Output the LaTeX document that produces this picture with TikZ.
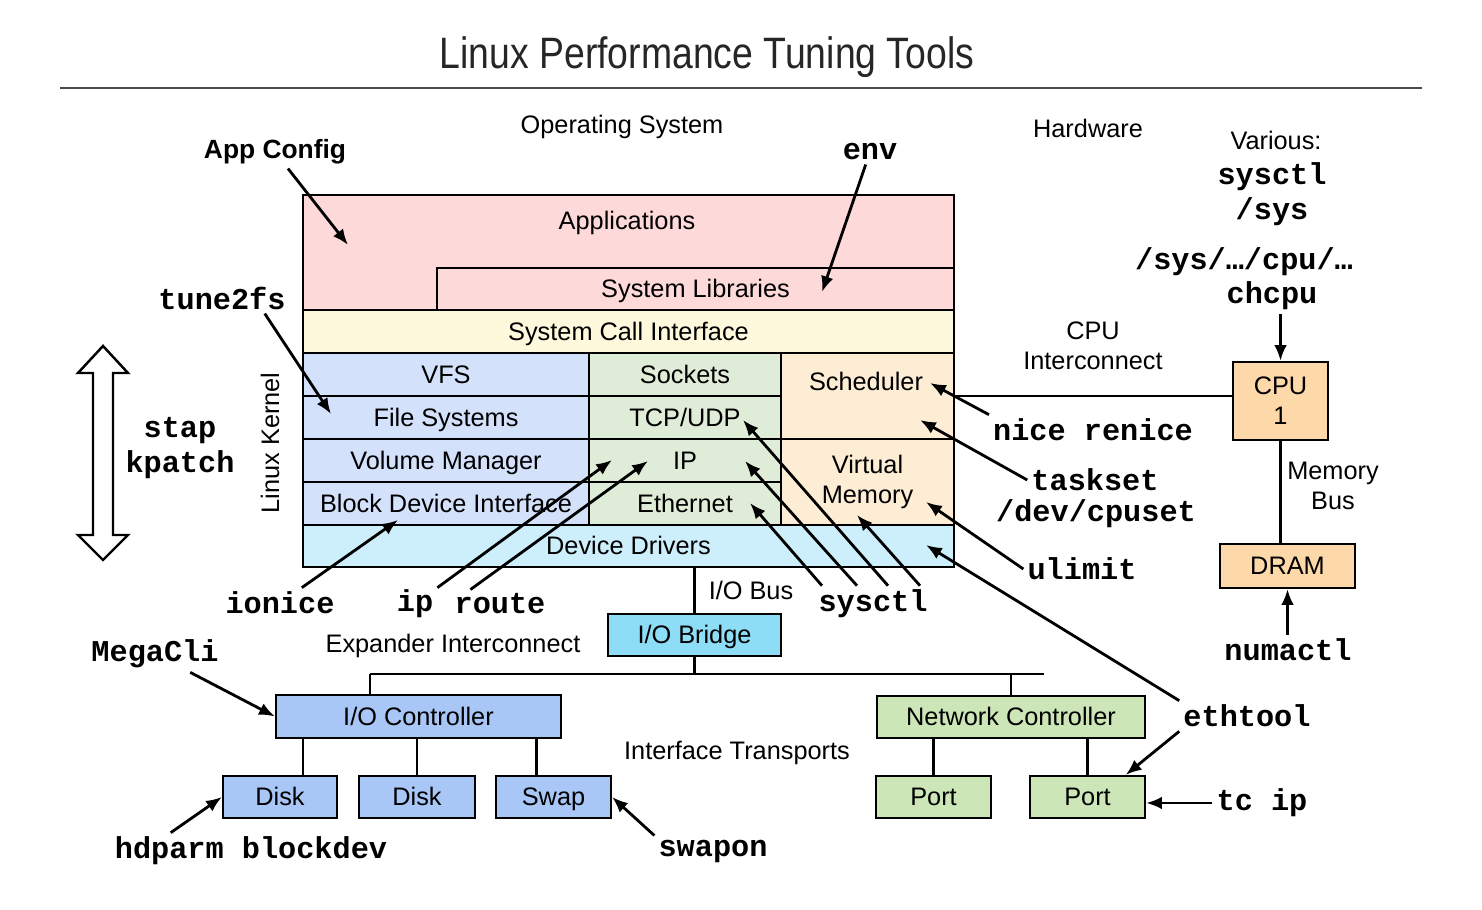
\documentclass[tikz,border=0pt]{standalone}
\usepackage{graphicx}
\usepackage{fontspec}
\setmainfont{Liberation Sans}
\setmonofont{Liberation Mono}
\usetikzlibrary{arrows.meta,positioning,calc}

\definecolor{apppink}{HTML}{FDD9D9}
\definecolor{sysyellow}{HTML}{FEF8DC}
\definecolor{kblue}{HTML}{D3E1FA}
\definecolor{kgreen}{HTML}{DFECD7}
\definecolor{korange}{HTML}{FDEDD5}
\definecolor{ddcyan}{HTML}{CDEEFB}
\definecolor{bridgecyan}{HTML}{8EDDF6}
\definecolor{ioblue}{HTML}{A8C6F6}
\definecolor{netgreen}{HTML}{CCE6B8}
\definecolor{hworange}{HTML}{FDD8A9}

\newcommand\boxfont{\fontsize{7.2}{8.5}\selectfont}
\newcommand\headfont{\fontsize{7.5}{9}\selectfont\bfseries}
\newcommand\cmdfont{\fontsize{8.6}{9.8}\selectfont\ttfamily\bfseries}

\begin{document}
\begin{tikzpicture}[x=0.01cm, y=-0.01cm,
    box/.style={draw, line width=0.6pt, inner sep=0pt, font=\boxfont, align=center},
    sbox/.style={box, text height=0.72em, text depth=0.22em},
    kbox/.style={sbox, minimum width=2.86cm, minimum height=0.43cm},
    lbl/.style={font=\boxfont, align=center, inner sep=1pt},
    cmd/.style={font=\cmdfont, align=center, inner sep=1pt},
    arrow/.style={-{Latex[length=4.5pt,width=3.6pt]}, line width=0.8pt},
    wire/.style={line width=0.6pt}
]
\useasboundingbox (0,0) rectangle (1482,910);

% Title
\node[black!85] (title) at (707,57) {\scalebox{0.85}[1]{\fontsize{12.5}{14}\selectfont Linux Performance Tuning Tools}};
\coordinate (ruleL) at (60,88);
\coordinate (ruleR) at (1422,88);
\draw[black!70, line width=0.5pt] (ruleL) -- (ruleR);

\node[lbl] (os) at (622,127) {Operating System};
\node[lbl] (hw) at (1088,128) {Hardware};

% Operating system stack
\node[box, fill=apppink, minimum width=6.51cm, minimum height=1.15cm] (apps) at (628.5,252.5) {};
\node[lbl] (appstxt) at (627,223) {Applications};
\node[sbox, fill=apppink, minimum width=5.17cm, minimum height=0.42cm] (libs) at (695.5,289) {System Libraries};
\node[sbox, fill=sysyellow, minimum width=6.51cm, minimum height=0.43cm] (syscall) at (628.5,331.5) {System Call Interface};

\node[kbox, fill=kblue] (vfs) at (446,374.5) {VFS};
\node[kbox, fill=kblue] (fs) at (446,417.5) {File Systems};
\node[kbox, fill=kblue] (vol) at (446,460.5) {Volume Manager};
\node[kbox, fill=kblue] (bdi) at (446,503.5) {Block Device Interface};

\node[kbox, fill=kgreen, minimum width=1.92cm] (sock) at (685,374.5) {Sockets};
\node[kbox, fill=kgreen, minimum width=1.92cm] (tcp) at (685,417.5) {TCP/UDP};
\node[kbox, fill=kgreen, minimum width=1.92cm] (ip) at (685,460.5) {IP};
\node[kbox, fill=kgreen, minimum width=1.92cm] (eth) at (685,503.5) {Ethernet};

\node[box, fill=korange, minimum width=1.73cm, minimum height=0.86cm] (sched) at (867.5,396) {};
\node[lbl] (schedtxt) at (866,381) {Scheduler};
\node[box, fill=korange, minimum width=1.73cm, minimum height=0.86cm] (vm) at (867.5,482) {Virtual\\Memory};

\node[sbox, fill=ddcyan, minimum width=6.51cm, minimum height=0.42cm] (dd) at (628.5,546) {Device Drivers};

\node[lbl, rotate=90] (kernel) at (270,443) {Linux Kernel};

% Hardware
\node[box, fill=hworange, minimum width=0.95cm, minimum height=0.78cm] (cpu) at (1280.5,401) {CPU\\1};
\node[sbox, fill=hworange, minimum width=1.35cm, minimum height=0.44cm] (dram) at (1287.5,566) {DRAM};
\node[lbl] (cpuic) at (1093,346) {CPU\\Interconnect};
\node[lbl] (membus) at (1333,486) {Memory\\Bus};
\draw[wire] (sched.east) -- (sched.east -| cpu.west);
\draw[wire] (cpu.south) -- (cpu.south |- dram.north);

% I/O path
\node[sbox, fill=bridgecyan, minimum width=1.73cm, minimum height=0.42cm] (bridge) at (694.5,635) {I/O Bridge};
\node[lbl] (iobus) at (751,590) {I/O Bus};
\node[lbl] (expander) at (453,646) {Expander Interconnect};
\coordinate (busL) at (370,674);
\coordinate (busR) at (1044,674);
\draw[wire] (bridge.north) -- (bridge.north |- dd.south);
\draw[wire] (busL) -- (busR);
\draw[wire] (bridge.south) -- (bridge.south |- busL);

\node[sbox, fill=ioblue, minimum width=2.85cm, minimum height=0.43cm] (ioctl) at (418.5,716.5) {I/O Controller};
\node[sbox, fill=netgreen, minimum width=2.68cm, minimum height=0.42cm] (netctl) at (1011,717) {Network Controller};
\draw[wire] (busL) -- (busL |- ioctl.north);
\draw[wire] (netctl.north) -- (netctl.north |- busL);

\node[sbox, fill=ioblue, minimum width=1.14cm, minimum height=0.42cm] (disk1) at (280,797) {Disk};
\node[sbox, fill=ioblue, minimum width=1.16cm, minimum height=0.42cm] (disk2) at (417,797) {Disk};
\node[sbox, fill=ioblue, minimum width=1.15cm, minimum height=0.42cm] (swap) at (553.5,797) {Swap};
\node[sbox, fill=netgreen, minimum width=1.15cm, minimum height=0.42cm] (port1) at (933.5,797) {Port};
\node[sbox, fill=netgreen, minimum width=1.15cm, minimum height=0.42cm] (port2) at (1087.5,797) {Port};
\node[lbl] (transports) at (737,753) {Interface Transports};
\draw[wire] ([xshift=0.23cm]disk1.north) -- ([xshift=0.23cm]disk1.north |- ioctl.south);
\draw[wire] (disk2.north) -- (disk2.north |- ioctl.south);
\draw[wire] ([xshift=-0.17cm]swap.north) -- ([xshift=-0.17cm]swap.north |- ioctl.south);
\draw[wire] (port1.north) -- (port1.north |- netctl.south);
\draw[wire] (port2.north) -- (port2.north |- netctl.south);

% Stap / kpatch double arrow
\draw[line width=0.7pt, fill=white] (103,346) -- (128,373) -- (113,373) -- (113,535) -- (128,535)
    -- (103,560) -- (78,535) -- (93,535) -- (93,373) -- (78,373) -- cycle;
\node[cmd] (stap) at (180,448) {stap\\kpatch};

% Tools
\node[font=\headfont, inner sep=1pt] (appcfg) at (275,152) {App Config};
\node[cmd] (env) at (870,152) {env};
\node[lbl] (various) at (1276,140) {Various:};
\node[cmd] (sysfs) at (1272,194) {sysctl\\/sys};
\node[cmd] (cpusys) at (1244,262) {/sys/…/cpu/…};
\node[cmd] (chcpu) at (1272,296) {chcpu};
\node[cmd] (tune) at (222,298) {tune2fs};
\node[cmd] (nice) at (1093,430) {nice renice};
\node[cmd] (taskset) at (1095,480) {taskset};
\node[cmd] (cpuset) at (1096,514) {/dev/cpuset};
\node[cmd] (ulimit) at (1082,569) {ulimit};
\node[cmd] (ionice) at (280,603) {ionice};
\node[cmd] (iptool) at (415,604) {ip};
\node[cmd] (route) at (500,604) {route};
\node[cmd] (sysctl) at (873,604) {sysctl};
\node[cmd] (megacli) at (155,654) {MegaCli};
\node[cmd] (numactl) at (1288,650) {numactl};
\node[cmd] (ethtool) at (1247,716) {ethtool};
\node[cmd] (tcip) at (1262,803) {tc ip};
\node[cmd] (hdparm) at (251,851) {hdparm blockdev};
\node[cmd] (swapon) at (713,851) {swapon};

% Arrow targets inside the stack
\coordinate (tApp) at (348,245);
\coordinate (tLib) at (822,292);
\coordinate (tFs) at (331,414);
\coordinate (tBdi) at (398,520);
\coordinate (tIpA) at (612,460);
\coordinate (tIpB) at (648,461);
\coordinate (tEth) at (750,503);
\coordinate (tIpC) at (745,461);
\coordinate (tTcp) at (743,420);
\coordinate (tVmA) at (857,515);
\coordinate (tSched) at (930,383);
\coordinate (tSchedB) at (920,420);
\coordinate (tVmB) at (926,502);
\coordinate (tDd) at (926,545);

\draw[arrow] (appcfg) -- (tApp);
\draw[arrow] (env) -- (tLib);
\draw[arrow] ([xshift=-0.25cm]tune.south east) -- (tFs);
\draw[arrow] (ionice) -- (tBdi);
\draw[arrow] (iptool) -- (tIpA);
\draw[arrow] ([xshift=0.2cm]route.north west) -- (tIpB);
\draw[arrow] ([xshift=-0.51cm]sysctl.north) -- (tEth);
\draw[arrow] ([xshift=-0.16cm]sysctl.north) -- (tIpC);
\draw[arrow] ([xshift=0.15cm]sysctl.north) -- (tTcp);
\draw[arrow] ([xshift=0.47cm]sysctl.north) -- (tVmA);
\draw[arrow] (nice.north west) -- (tSched);
\draw[arrow] (taskset.west) -- (tSchedB);
\draw[arrow] (ulimit.west) -- (tVmB);
\draw[arrow] (ethtool.north west) -- (tDd);
\draw[arrow] (ethtool.south west) -- (port2.30);
\draw[arrow] (tcip.west) -- (tcip.west -| port2.east);
\draw[arrow] (cpu.north |- chcpu.south) -- (cpu.north);
\draw[arrow] (dram.south |- numactl.north) -- (dram.south);
\draw[arrow] (megacli) -- (ioctl.west);
\draw[arrow] ([xshift=0.6cm]hdparm.north west) -- (disk1.west);
\draw[arrow] (swapon.north west) -- (swap.east);

\end{tikzpicture}
\end{document}
